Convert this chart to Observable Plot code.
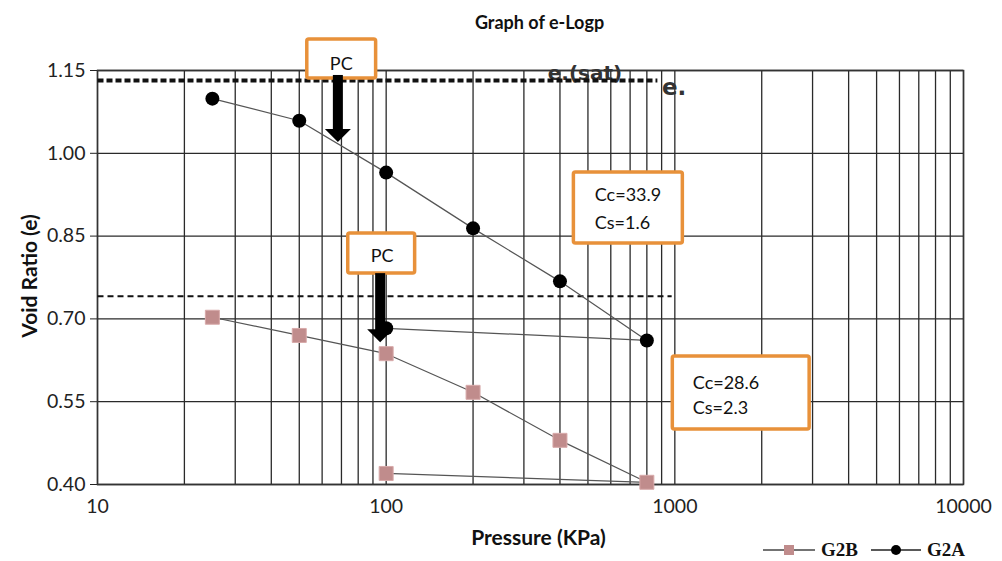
<!DOCTYPE html>
<html>
<head>
<meta charset="utf-8">
<script src="https://cdn.jsdelivr.net/npm/d3@7"></script>
<script src="https://cdn.jsdelivr.net/npm/@observablehq/plot@0.6"></script>
<style>
  body { margin: 0; background: #fff; }
  #wrap { position: relative; width: 1002px; height: 561px; }
  #legend { position: absolute; left: 763px; top: 539px; display: flex; align-items: center;
            font-family: "Liberation Serif", "Times New Roman", serif; font-weight: bold; font-size: 19px; color: #111; }
  #legend span { margin-right: 13px; margin-left: 6px; }
  #ylabel { position: absolute; left: 28px; top: 276px; transform: translate(-50%, -50%) rotate(-90deg);
            font-family: Lato, "Open Sans", sans-serif; font-weight: bold; font-size: 21px; color: #111; white-space: nowrap; }
</style>
</head>
<body>
<div id="wrap"></div>
<script>
// ---- data ----
const pressureG2A = [25, 50, 100, 200, 400, 800, 100];
const voidG2A     = [1.099, 1.059, 0.965, 0.864, 0.768, 0.661, 0.683];
const pressureG2B = [25, 50, 100, 200, 400, 800, 100];
const voidG2B     = [0.703, 0.670, 0.637, 0.567, 0.480, 0.404, 0.420];

const xTicks = [10, 100, 1000, 10000];
const xGrid = [10,20,30,40,50,60,70,80,90,100,200,300,400,500,600,700,800,900,1000,2000,3000,4000,5000,6000,7000,8000,9000,10000];
const yTicks = [0.40, 0.55, 0.70, 0.85, 1.00, 1.15];

const titleText = "Graph of e-Logp";
const xLabelText = "Pressure (KPa)";
const yLabelText = "Void Ratio (e)";
const seriesNames = ["G2B", "G2A"];

// annotations (in data coordinates)
const satLine = [{x1: 10, x2: 870, e: 1.132}];
const pcLine  = [{x1: 10, x2: 975, e: 0.741}];
const boxes = [
  {x1: 53.3, x2: 92.3, y1: 1.2062, y2: 1.1355},
  {x1: 73.9, x2: 126.0, y1: 0.8547, y2: 0.7822},
  {x1: 447, x2: 1066, y1: 0.9652, y2: 0.8366},
  {x1: 984, x2: 2931, y1: 0.6319, y2: 0.4996}
];
const boxLabelsCenter = [
  {x: 69.9, e: 1.1609, t: "PC"},
  {x: 96.8, e: 0.813, t: "PC"}
];
const boxLabelsLeft = [
  {x: 528, e: 0.9236, t: "Cc=33.9"},
  {x: 528, e: 0.8728, t: "Cs=1.6"},
  {x: 1154, e: 0.583, t: "Cc=28.6"},
  {x: 1154, e: 0.5377, t: "Cs=2.3"}
];
const arrows = [
  {x: 68.3, eTop: 1.141, eTip: 1.0196},
  {x: 95.7, eTop: 0.782, eTip: 0.657}
];
const satLabels = [
  {x: 363, e: 1.1446, t: "e.(sat)", size: 20},
  {x: 902, e: 1.119, t: "e.", size: 23}
];

const g2a = pressureG2A.map((p, i) => ({p, e: voidG2A[i]}));
const g2b = pressureG2B.map((p, i) => ({p, e: voidG2B[i]}));

const orange = "#e8913a";
const sq = "#c08c8c";

function arrowMark(index, scales) {
  const g = d3.create("svg:g");
  for (const a of arrows) {
    const x = scales.x(a.x), y0 = scales.y(a.eTop), y1 = scales.y(a.eTip);
    const headH = 13, shaftW = 10, headW = 26;
    g.append("rect").attr("x", x - shaftW / 2).attr("y", y0).attr("width", shaftW)
      .attr("height", y1 - headH - y0 + 1).attr("fill", "#000");
    g.append("path").attr("d", `M${x - headW/2},${y1 - headH} L${x + headW/2},${y1 - headH} L${x},${y1} Z`)
      .attr("fill", "#000");
  }
  return g.node();
}

const chart = Plot.plot({
  width: 1002,
  height: 561,
  marginLeft: 97,
  marginRight: 39,
  marginTop: 70,
  marginBottom: 77,
  style: {fontFamily: "Lato, 'Open Sans', sans-serif", fontSize: "19.5px", color: "#222", background: "#fff"},
  x: {type: "log", domain: [10, 10000], ticks: xTicks, tickFormat: d => String(d), tickSize: 0, tickPadding: 15, label: null},
  y: {domain: [0.40, 1.15], ticks: yTicks, tickFormat: d => d.toFixed(2), tickSize: 7, tickPadding: 5, label: null},
  marks: [
    Plot.ruleX(xGrid, {stroke: "#2a2a2a", strokeWidth: 1.3}),
    Plot.ruleY(yTicks, {stroke: "#2a2a2a", strokeWidth: 1.3}),
    Plot.frame({stroke: "#333", strokeWidth: 1.5}),
    Plot.text(satLabels, {x: "x", y: "e", text: "t", textAnchor: "start", fontSize: d => d.size, fontWeight: "bold",
      fontFamily: "'DejaVu Sans', sans-serif", fill: "#333"}),
    Plot.link(satLine, {x1: "x1", x2: "x2", y1: "e", y2: "e", stroke: "#111", strokeWidth: 4, strokeDasharray: "6,3"}),
    Plot.link(pcLine, {x1: "x1", x2: "x2", y1: "e", y2: "e", stroke: "#111", strokeWidth: 2.2, strokeDasharray: "6,4"}),
    Plot.line(g2a, {x: "p", y: "e", stroke: "#555", strokeWidth: 1.2}),
    Plot.line(g2b, {x: "p", y: "e", stroke: "#555", strokeWidth: 1.2}),
    Plot.dot(g2a, {x: "p", y: "e", r: 7, fill: "#000", stroke: "none"}),
    Plot.dot(g2b, {x: "p", y: "e", r: 7.9, symbol: "square", fill: sq, stroke: "#d8aaaa", strokeWidth: 1}),
    Plot.rect(boxes, {x1: "x1", x2: "x2", y1: "y1", y2: "y2", fill: "#fff", stroke: orange, strokeWidth: 3.5, rx: 2, clip: false}),
    arrowMark,
    Plot.text(boxLabelsCenter, {x: "x", y: "e", text: "t", fontSize: 18, fill: "#111"}),
    Plot.text(boxLabelsLeft, {x: "x", y: "e", text: "t", textAnchor: "start", fontSize: 18, fill: "#111"}),
    Plot.text([titleText], {frameAnchor: "top", dx: 9, dy: -54, fontWeight: "bold", fontSize: 18, fill: "#111"}),
    Plot.text([xLabelText], {frameAnchor: "bottom", dx: 8, dy: 60, fontWeight: "bold", fontSize: 21, fill: "#111"})
  ]
});

const wrap = document.getElementById("wrap");
wrap.appendChild(chart);

const ylab = document.createElement("div");
ylab.id = "ylabel";
ylab.textContent = yLabelText;
wrap.appendChild(ylab);

const legend = document.createElement("div");
legend.id = "legend";
legend.innerHTML = `
  <svg width="52" height="14"><line x1="0" y1="7" x2="52" y2="7" stroke="#444" stroke-width="1.5"/><rect x="21" y="2" width="10" height="10" fill="${sq}"/></svg>
  <span>${seriesNames[0]}</span>
  <svg width="50" height="14"><line x1="0" y1="7" x2="50" y2="7" stroke="#222" stroke-width="1.5"/><circle cx="25" cy="7" r="5" fill="#000"/></svg>
  <span>${seriesNames[1]}</span>`;
wrap.appendChild(legend);
</script>
</body>
</html>
